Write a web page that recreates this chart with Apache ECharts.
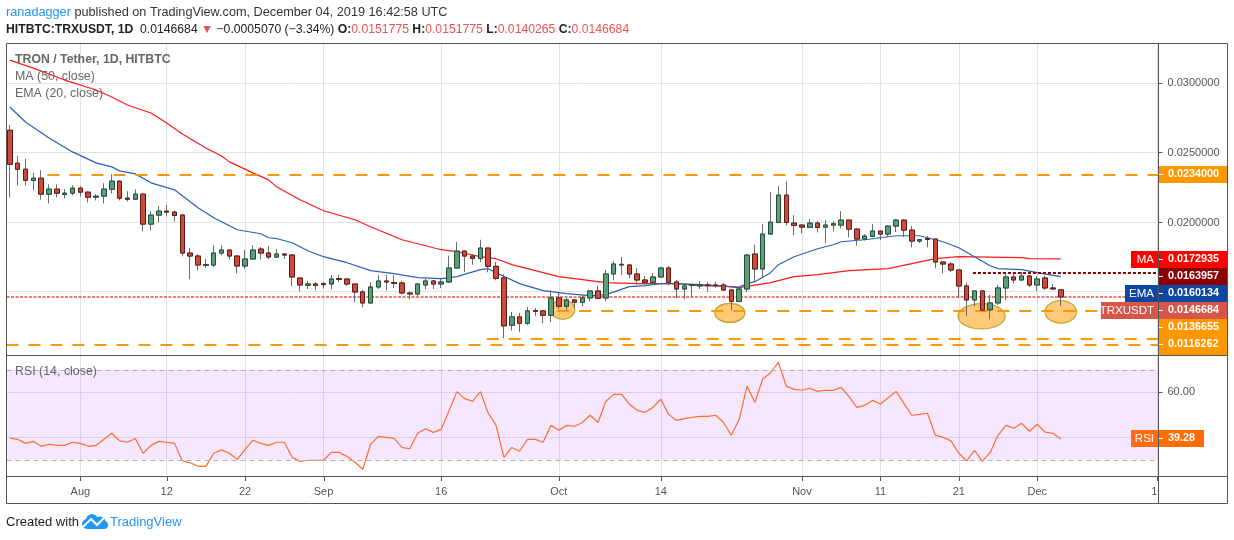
<!DOCTYPE html>
<html><head><meta charset="utf-8">
<style>html,body{margin:0;padding:0;background:#fff}#c{width:1234px;height:540px}</style>
<script src="https://cdn.jsdelivr.net/npm/echarts@6/dist/echarts.min.js"></script>
</head><body><div id="c"></div>
<script>
// Daily candles, day 0 = 23 Jul 2019, day 134 = 4 Dec 2019 (USDT)
const opens=[.026598,.024241,.023812,.023003,.023169,.022026,.022384,.022003,.022098,.022455,
.022169,.021812,.021884,.022384,.022955,.021741,.021669,.022026,.019883,.020526,
.020812,.020741,.020526,.017812,.017598,.016931,.016955,.017812,.018026,.017598,
.016883,.017383,.018097,.017811,.017526,.017740,.017669,.016026,.015502,.015597,
.015621,.015597,.015978,.015954,.015597,.015026,.014240,.015383,.015811,.015692,
.015669,.014954,.014883,.015526,.015811,.015597,.015740,.016740,.017954,.017598,
.017431,.018169,.016860,.016027,.012646,.013241,.012788,.013693,.013669,.013360,
.014598,.014003,.014455,.014288,.014598,.015098,.014598,.016312,.016955,.016955,
.016312,.015884,.015717,.016098,.016741,.015741,.015241,.015503,.015455,.015526,
.015526,.015526,.015169,.014360,.015241,.017741,.016669,.019170,.020003,.021955,
.019955,.019812,.019646,.019955,.019669,.019812,.019812,.020169,.019527,.018812,
.019003,.019384,.019170,.019741,.020169,.019455,.018669,.018836,.018812,.017169,
.017026,.016598,.015455,.014455,.015098,.013741,.014241,.015312,.016098,.015884,
.016169,.015526,.016027,.015312,.015178];
const closes=[.024169,.023812,.023026,.023169,.022026,.022384,.022098,.022098,.022455,.022169,
.021812,.021884,.022384,.022955,.021741,.021669,.022026,.019883,.020526,.020812,
.020741,.020503,.017812,.017598,.016955,.016979,.017812,.018026,.017598,.016883,
.017383,.018026,.017811,.017526,.017740,.017669,.016097,.015526,.015597,.015502,
.015550,.015954,.015930,.015597,.015026,.014240,.015383,.015811,.015740,.015645,
.014954,.014883,.015597,.015811,.015597,.015740,.016740,.017954,.017597,.017431,
.018169,.016860,.016003,.012598,.013241,.012788,.013669,.013646,.013360,.014598,
.014003,.014455,.014288,.014598,.015098,.014574,.016312,.017026,.017003,.016312,
.015884,.015717,.016098,.016741,.015717,.015241,.015455,.015550,.015550,.015479,
.015479,.015169,.014360,.015241,.017669,.016669,.019170,.020027,.021955,.020003,
.019788,.019669,.019955,.019646,.019812,.019907,.020169,.019527,.018812,.019027,
.019384,.019170,.019741,.020169,.019455,.018669,.018765,.018788,.017169,.017026,
.016598,.015455,.014455,.015098,.013717,.014241,.015312,.016098,.015884,.016169,
.015526,.015955,.015312,.015241,.014668];
const lows=[.021788,.022645,.022645,.022288,.021645,.021360,.021788,.021717,.021931,.021860,
.021431,.021574,.021360,.022074,.021574,.021503,.021622,.019360,.019431,.020003,
.020431,.020074,.017574,.015931,.016574,.016740,.016812,.017645,.017360,.016360,
.016669,.017383,.017359,.017383,.017454,.017383,.015430,.015073,.015240,.015145,
.015264,.015216,.015740,.015454,.014288,.013930,.014169,.015240,.015145,.015311,
.014859,.014502,.014740,.015216,.015240,.015311,.015669,.016669,.016454,.016979,
.017146,.016431,.015860,.011717,.012265,.012145,.012646,.013288,.012788,.012860,
.013812,.013717,.013884,.014003,.014360,.014526,.014360,.015860,.016241,.016003,
.015574,.015550,.015598,.016027,.015503,.014574,.014503,.014646,.015241,.015050,
.015336,.015098,.013717,.014288,.015003,.015741,.016098,.019098,.019931,.019788,
.019074,.019217,.019598,.019288,.018503,.019360,.019574,.018931,.018336,.018717,
.018931,.018741,.018955,.019312,.018955,.018217,.018526,.018217,.016717,.016360,
.016455,.014598,.013288,.014003,.013646,.013074,.014098,.014455,.015646,.015812,
.015384,.015098,.015169,.015169,.014027];
const highs=[.026979,.024765,.024550,.023550,.023741,.022741,.022741,.022384,.022669,.022598,
.022241,.022026,.022812,.023455,.023026,.022241,.022384,.022098,.020812,.021169,
.021241,.020860,.020598,.018169,.017741,.017383,.018383,.018383,.018026,.017669,
.018026,.018383,.018240,.018311,.018097,.017811,.017740,.016026,.015811,.015740,
.015740,.016240,.016240,.015954,.015597,.015169,.015740,.016240,.016240,.016240,
.015811,.015026,.015669,.015954,.015883,.015954,.017621,.018597,.017954,.017741,
.018765,.018169,.017169,.016312,.013598,.013526,.013955,.013884,.013741,.015169,
.014955,.014598,.014526,.014812,.015169,.015479,.016598,.017241,.017526,.017003,
.016741,.016169,.016384,.016812,.016884,.015884,.015526,.015598,.015812,.015717,
.015765,.015669,.015241,.015312,.017741,.018408,.019884,.022169,.022598,.022955,
.020527,.019884,.020241,.020098,.020169,.020098,.020812,.020169,.019598,.019170,
.019884,.019384,.019812,.020241,.020241,.019741,.018812,.019027,.018812,.017217,
.017169,.016646,.015669,.015098,.015169,.014812,.015526,.016455,.016384,.016455,
.016241,.016169,.016169,.015598,.015178];
// Moving averages, read at the days where the curves bend
const maDays=[0,3,7,11,13,15,18,20,22,25,27,28,31,33,34,37,40,44,46,50,55,57,60,62,64,67,70,74,76,80,85,88,91,93,97,100,103,107,112,115,118,121,129,130,134];
const maValues=[.031622,.031050,.030193,.029479,.028979,.028407,.027836,.027122,.026336,.025336,.024764,.024336,.023550,.023050,.022550,.021621,.020836,.020193,.019693,.018764,.018050,.017907,.017550,.017407,.016979,.016550,.016121,.015836,.015693,.015621,.015621,.015479,.015443,.015336,.015693,.016121,.016264,.016550,.016693,.017050,.017407,.017550,.017479,.017407,.017400];
const emaDays=[0,2,5,8,11,13,14,16,18,21,24,26,29,32,33,34,36,38,40,43,46,49,52,55,57,60,61,62,65,68,71,74,76,79,81,83,85,88,93,94,95,97,98,100,103,105,106,109,113,116,119,121,123,125,126,129,131,134];
const emaValues=[.028264,.027193,.026050,.025050,.024264,.023979,.023693,.023479,.022836,.022336,.021050,.020336,.019479,.019193,.018907,.018850,.018550,.017979,.017550,.017121,.016550,.016336,.016050,.015979,.016121,.016621,.016693,.016407,.015621,.015121,.014907,.014764,.014836,.015407,.015479,.015621,.015621,.015550,.015371,.015621,.015764,.016407,.016979,.017550,.018121,.018407,.018621,.018764,.019050,.019050,.018621,.018193,.017550,.016907,.016693,.016621,.016407,.016121];
const rsiValues=[39.7,39.1,37.3,38.2,36.0,36.9,36.4,36.4,37.8,37.3,36.0,36.4,39.1,41.8,38.4,37.8,39.5,32.9,36.4,38.2,37.8,37.3,29.5,28.7,27.1,27.1,32.9,34.4,32.9,30.2,34.6,38.7,37.3,36.4,37.8,37.8,31.1,29.3,29.8,29.8,29.8,33.3,33.3,31.5,28.9,25.8,36.9,40.4,40.0,39.5,35.5,34.9,
41.8,43.8,42.2,43.5,51.8,60.3,57.2,56.0,60.3,50.7,45.3,31.1,35.5,33.8,39.1,39.1,37.8,45.3,43.1,45.3,44.9,46.6,49.8,46.6,56.0,59.1,59.1,54.7,52.0,51.1,53.3,56.9,50.2,47.5,48.3,48.9,49.3,49.3,49.8,46.6,40.9,48.0,62.7,55.5,65.9,68.7,73.3,62.7,61.3,60.9,61.8,60.4,60.9,60.9,62.2,58.1,53.3,54.2,56.4,54.8,57.6,60.4,55.1,49.8,50.2,50.7,41.0,40.0,38.4,32.9,29.5,34.2,29.3,33.3,40.9,45.3,44.0,46.2,42.7,45.8,42.3,41.8,39.28];
// Time axis
const tickDays=[9,20,30,40,55,70,83,101,111,121,131,146.3];
const tickLabels=['Aug','12','22','Sep','16','Oct','14','Nov','11','21','Dec','16'];
// Price axis
const priceTicks=[.0151,.02,.025,.03];
const priceLabels=[.02,.025,.03];
// Drawn levels: value and first day
const dashedLevels=[.0234,.0136655,.0117,.01127];
const dashedStarts=[4.8,69.8,60.8,-0.42];
const resistanceLevel=.0163957, resistanceStart=122.8;
const lastPriceLine=.0146684;
// Ellipses: day, price, half-width in days, half-height in price
const ellipseDays=[70.5,91.8,123.9,134];
const ellipsePrices=[.013764,.013529,.013286,.0136];
const ellipseHalfDays=[1.53,1.91,3,2];
const ellipseHalfPrices=[.000693,.000679,.000907,.0008];
// Price tags
const tagTexts=['0.0234000','0.0172935','0.0163957','0.0160134','0.0146684','0.0136655','0.0116262'];
const tagNames=['','MA','','EMA','TRXUSDT','',''];
const tagColors=['#ff9800','#ff0000','#8b0000','#0d47a1','#d4574a','#ff9800','#ff9800'];
const tagTops=[166,251,268,285,302,319,336];
const tagHeights=[17,17,17,17,17,17,19];
const tagNameLefts=[0,1131,0,1125,1101,0,0];

const FONT='"Liberation Sans",sans-serif';
const xMin=-0.42,xMax=146.46;
const PL=6.5,PR=1158.5;

const wickData=opens.map((o,i)=>[i,o,closes[i],lows[i],highs[i]]);
const bodyData=opens.map((o,i)=>[i,o,closes[i],Math.min(o,closes[i]),Math.max(o,closes[i])]);
const maData=maDays.map((d,i)=>[d,maValues[i]]);
const emaData=emaDays.map((d,i)=>[d,emaValues[i]]);
const rsiData=rsiValues.map((v,i)=>[i,v]);
const ellipseData=ellipseDays.map((d,i)=>[d,ellipsePrices[i],ellipseHalfDays[i],ellipseHalfPrices[i]]);

const gfx=[];
const txt=(x,y,text,o)=>gfx.push({type:'text',x,y,z:100,silent:true,style:Object.assign({text,font:'11px '+FONT,fill:'#555',textVerticalAlign:'middle'},o||{})});
const rect=(x,y,w,h,fill,z)=>gfx.push({type:'rect',z:z||99,silent:true,shape:{x,y,width:w,height:h},style:{fill}});
const line=(x1,y1,x2,y2,c,z)=>gfx.push({type:'line',z:z||98,silent:true,shape:{x1,y1,x2,y2},style:{stroke:c||'#555',lineWidth:1}});

// white cover of the price column under the time axis, then frame
rect(1159,477,68,26,'#fff',97);
line(6.5,43.5,1227.5,43.5);line(6.5,503.5,1227.5,503.5);line(6.5,43.5,6.5,503.5);line(1227.5,43.5,1227.5,503.5);
line(1158.5,43.5,1158.5,503.5);line(6.5,355.5,1227.5,355.5);line(6.5,476.5,1227.5,476.5);
// time-axis tick marks follow the x scale of the panes
tickDays.forEach(d=>{
  const x=Math.round(PL+(d-xMin)/(xMax-xMin)*(PR-PL))+0.5;
  if(x<PR) line(x,477,x,481,'#555',100);
});

// header
const HR={a:{fill:'#2196f3',font:'12.7px '+FONT},b:{fill:'#333',font:'12.7px '+FONT}};
gfx.push({type:'text',x:6,y:12.5,z:100,silent:true,style:{text:'{a|ranadagger}{b| published on TradingView.com, December 04, 2019 16:42:58 UTC}',rich:HR,textVerticalAlign:'middle'}});
const HL={k:{fill:'#222',font:'bold 12.2px '+FONT},v:{fill:'#222',font:'12.2px '+FONT},r:{fill:'#ef5350',font:'12.2px '+FONT}};
gfx.push({type:'text',x:6,y:29.5,z:100,silent:true,style:{text:'{k|HITBTC:TRXUSDT, 1D}{v|  0.0146684 }{r|▼}{v| −0.0005070 (−3.34%) }{k|O:}{r|0.0151775 }{k|H:}{r|0.0151775 }{k|L:}{r|0.0140265 }{k|C:}{r|0.0146684}',rich:HL,textVerticalAlign:'middle'}});

// pane legends
txt(15,60,'TRON / Tether, 1D, HITBTC',{font:'bold 12.3px '+FONT,fill:'#666'});
txt(15,77,'MA (50, close)',{font:'12.4px '+FONT,fill:'#666'});
txt(15,94,'EMA (20, close)',{font:'12.4px '+FONT,fill:'#666'});
txt(15,372,'RSI (14, close)',{font:'12.4px '+FONT,fill:'#666'});

// price tags
tagTexts.forEach((t,i)=>{
  rect(1159,tagTops[i],68,tagHeights[i],tagColors[i]);
  line(1159,tagTops[i]+8.5,1163,tagTops[i]+8.5,'#fff',100);
  txt(1168,tagTops[i]+8.5,t,{font:'bold 10.8px '+FONT,fill:'#fff'});
  if(tagNames[i]){
    rect(tagNameLefts[i],tagTops[i],1158-tagNameLefts[i],17,tagColors[i]);
    txt(1154,tagTops[i]+8.5,tagNames[i],{font:'11.5px '+FONT,fill:'#fff',textAlign:'right'});
  }
});
// RSI tag
rect(1131,430,27,17,'#ff6a13');rect(1159,430,45,17,'#ff6d00');
line(1159,438.5,1163,438.5,'#fff',100);
txt(1154,438.5,'RSI',{font:'11.5px '+FONT,fill:'#fff',textAlign:'right'});
txt(1168,438.5,'39.28',{font:'bold 10.8px '+FONT,fill:'#fff'});

// footer
txt(6,522,'Created with',{font:'13px '+FONT,fill:'#222'});
[[87,524,5],[92,520,6],[100,522,5.5],[104,525,4]].forEach(c=>gfx.push({type:'circle',z:100,silent:true,shape:{cx:c[0],cy:c[1],r:c[2]},style:{fill:'#2196f3'}}));
rect(87,524,17,5,'#2196f3',100);
gfx.push({type:'polyline',z:101,silent:true,shape:{points:[[83,527],[91,519],[97,525],[104,518]]},style:{stroke:'#fff',lineWidth:2,fill:null}});
txt(110,522,'TradingView',{font:'13px '+FONT,fill:'#2196f3'});

const GRID='#e2e2e2';
const xCommon={type:'value',min:xMin,max:xMax,axisLine:{show:false,onZero:false},
  splitLine:{show:true,lineStyle:{color:GRID,width:1}},
  axisTick:{show:false,customValues:tickDays},
  axisLabel:{show:false,customValues:tickDays}};

const chart=echarts.init(document.getElementById('c'));
chart.setOption({
  animation:false,
  backgroundColor:'#fff',
  tooltip:{show:false},
  grid:[{left:PL,top:44.2,width:PR-PL,height:311},{left:PL,top:355,width:PR-PL,height:121}],
  xAxis:[Object.assign({gridIndex:0},xCommon),
    Object.assign({},xCommon,{gridIndex:1,position:'bottom',
      axisLabel:{show:true,color:'#555',fontFamily:FONT,fontSize:11,margin:10,showMinLabel:true,showMaxLabel:true,hideOverlap:false,customValues:tickDays,
        formatter:v=>{const i=tickDays.indexOf(v);return i<0?'':tickLabels[i];}}})],
  yAxis:[{gridIndex:0,type:'value',position:'right',min:.0105,max:.03276,scale:true,
      axisLine:{show:false,onZero:false},
      splitLine:{show:true,lineStyle:{color:GRID,width:1}},
      axisTick:{show:true,length:4,lineStyle:{color:'#555'},customValues:priceTicks},
      axisLabel:{show:true,color:'#555',fontFamily:FONT,fontSize:11,margin:9,customValues:priceLabels,formatter:v=>v.toFixed(7)}},
    {gridIndex:1,type:'value',position:'right',min:22.8,max:76.58,
      axisLine:{show:false,onZero:false},
      splitLine:{show:true,lineStyle:{color:GRID,width:1}},
      axisTick:{show:true,length:4,lineStyle:{color:'#555'},customValues:[40,60]},
      axisLabel:{show:true,color:'#555',fontFamily:FONT,fontSize:11,margin:9,customValues:[60],formatter:v=>v.toFixed(2)}}],
  graphic:{elements:gfx},
  series:[
    {type:'line',name:'levels',xAxisIndex:0,yAxisIndex:0,data:[],z:1,silent:true,symbol:'none',
      markLine:{silent:true,symbol:'none',label:{show:false},animation:false,
        data:[
          ...dashedLevels.map((v,i)=>[{coord:[dashedStarts[i],v],lineStyle:{color:'#ff9800',width:2,type:[12,10]}},{coord:[xMax,v]}]),
          [{coord:[resistanceStart,resistanceLevel],lineStyle:{color:'#8b0000',width:2,type:[3,2]}},{coord:[xMax,resistanceLevel]}]
        ]}},
    {type:'line',name:'last price',xAxisIndex:0,yAxisIndex:0,data:[],z:1,silent:true,symbol:'none',
      markLine:{silent:true,symbol:'none',label:{show:false},animation:false,
        lineStyle:{color:'#e8321e',width:1.6,type:[3,1.5],opacity:0.85},
        data:[[{coord:[xMin,lastPriceLine]},{coord:[xMax,lastPriceLine]}]]}},
    {type:'custom',name:'ellipses',xAxisIndex:0,yAxisIndex:0,z:2,silent:true,data:ellipseData,encode:{x:0,y:1},
      renderItem:(p,api)=>{const c=api.coord([api.value(0),api.value(1)]);const s=api.size([api.value(2),api.value(3)]);
        return {type:'ellipse',shape:{cx:c[0],cy:c[1],rx:s[0],ry:s[1]},style:{fill:'rgba(255,152,0,0.52)',stroke:'#c2a52e',lineWidth:1.3}};}},
    {type:'line',name:'MA (50, close)',xAxisIndex:0,yAxisIndex:0,z:3,data:maData,symbol:'none',silent:true,lineStyle:{color:'#ff1a1a',width:1.2}},
    {type:'line',name:'EMA (20, close)',xAxisIndex:0,yAxisIndex:0,z:3,data:emaData,symbol:'none',silent:true,lineStyle:{color:'#2962b8',width:1.2}},
    {type:'candlestick',name:'wicks',xAxisIndex:0,yAxisIndex:0,z:4,silent:true,barWidth:5,data:wickData,encode:{x:0,y:[1,2,3,4]},
      itemStyle:{color:'#d04a3a',color0:'#d04a3a',borderColor:'#6b6b6b',borderColor0:'#6b6b6b',borderWidth:1}},
    {type:'candlestick',name:'TRXUSDT',xAxisIndex:0,yAxisIndex:0,z:5,silent:true,barWidth:5,data:bodyData,encode:{x:0,y:[1,2,3,4]},
      itemStyle:{color:'#5c9e78',color0:'#d04a3a',borderColor:'#1f4f36',borderColor0:'#5d1a1a',borderWidth:1}},
    {type:'line',name:'RSI (14, close)',xAxisIndex:1,yAxisIndex:1,z:3,data:rsiData,symbol:'none',silent:true,lineStyle:{color:'#ff6d2a',width:1.2},
      markArea:{silent:true,itemStyle:{color:'rgba(153,21,255,0.1)'},data:[[{yAxis:70},{yAxis:30}]]},
      markLine:{silent:true,symbol:'none',label:{show:false},lineStyle:{color:'#b8aabb',width:1,type:[5,4]},data:[{yAxis:70},{yAxis:30}]}}
  ]
});
</script></body></html>
